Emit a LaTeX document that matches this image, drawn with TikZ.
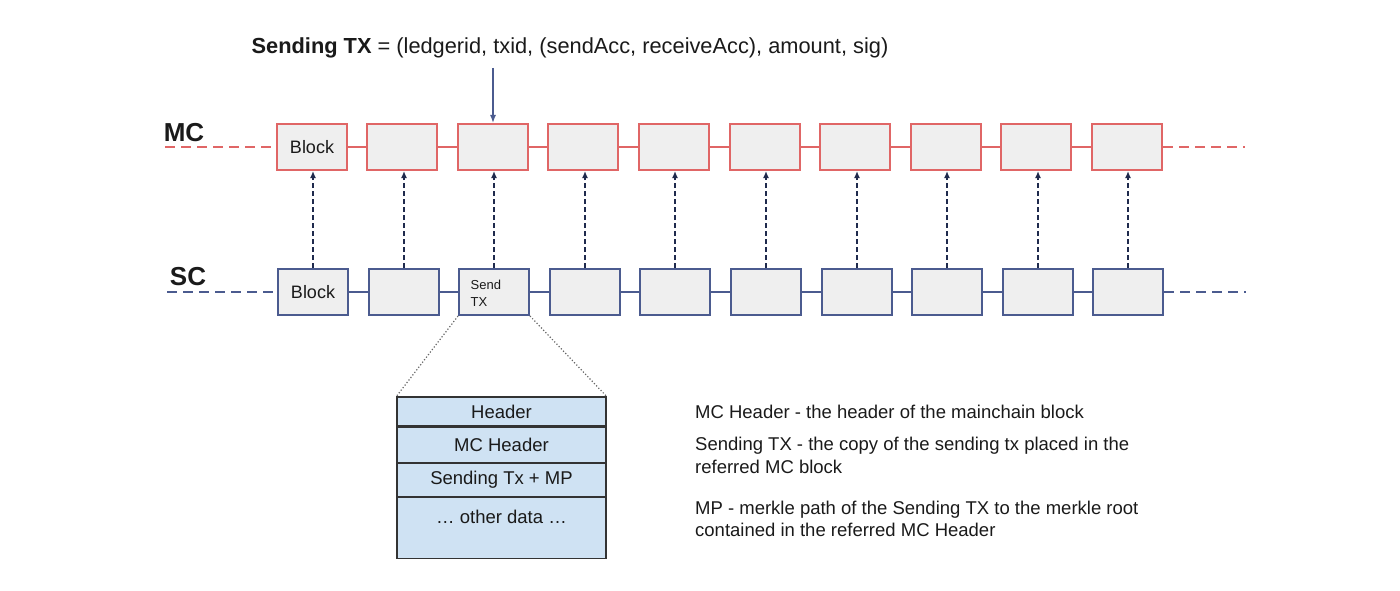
\documentclass[tikz,border=0pt]{standalone}
\usepackage{fontspec}
\setmainfont{Liberation Sans}
\usetikzlibrary{arrows.meta}
\definecolor{mcred}{HTML}{E06666}
\definecolor{scblue}{HTML}{4B5B8F}
\definecolor{boxfill}{HTML}{EFEFEF}
\definecolor{navy}{HTML}{1F2A4D}
\definecolor{detailfill}{HTML}{CFE2F3}
\definecolor{txt}{HTML}{1A1A1A}
\tikzset{
  mcbox/.style={draw=mcred, line width=2pt, fill=boxfill, minimum width=70pt, minimum height=46pt, inner sep=0pt, font=\fontsize{18}{20}\selectfont, text=txt},
  scbox/.style={draw=scblue, line width=2pt, fill=boxfill, minimum width=70pt, minimum height=46pt, inner sep=0pt, font=\fontsize{18}{20}\selectfont, text=txt},
  mclink/.style={draw=mcred, line width=2pt},
  sclink/.style={draw=scblue, line width=1.5pt},
  mcdash/.style={draw=mcred, line width=2pt, dash pattern=on 10pt off 6pt},
  scdash/.style={draw=scblue, line width=2pt, dash pattern=on 10pt off 6pt},
  refarrow/.style={draw=navy, line width=2pt, dash pattern=on 5pt off 3pt, -{Latex[length=7pt,width=6pt]}},
  toparrow/.style={draw=scblue, line width=1.4pt, -{Latex[length=8pt,width=6pt]}},
  detailrow/.style={draw=black!80, line width=1.2pt, fill=detailfill, minimum width=209pt, inner sep=0pt, font=\fontsize{18.5}{20}\selectfont, text=txt},
  zoomline/.style={draw=black!60, line width=1.2pt, dotted},
  chainlabel/.style={font=\bfseries\fontsize{26}{28}\selectfont, text=txt},
  notetext/.style={anchor=base west, inner sep=0pt, font=\fontsize{18.5}{20}\selectfont, text=txt},
}
\begin{document}
\begin{tikzpicture}[x=1pt,y=-1pt]
\useasboundingbox (0,0) rectangle (1400,591);
% top text
\node[anchor=base, inner sep=0pt, font=\fontsize{21.8}{24}\selectfont, text=txt] (toptext) at (570,54) {\textbf{Sending TX} = (ledgerid, txid, (sendAcc, receiveAcc), amount, sig)};
% MC chain
\foreach \i in {0,...,9} {
  \pgfmathtruncatemacro{\cx}{round(311.5+90.6*\i)}
  \node[mcbox] (m\i) at (\cx,147) {};
}
\node[mcbox] at (m0) {Block};
% SC chain
\foreach \i in {0,...,9} {
  \pgfmathtruncatemacro{\cx}{round(313+90.6*\i)}
  \node[scbox] (s\i) at (\cx,292) {};
}
\node[scbox] at (s0) {Block};
\node[anchor=north west, inner sep=0pt, align=left, font=\fontsize{13}{17}\selectfont, text=txt] (sendtx) at (470.5,280) {Send\\TX};
% labels
\node[chainlabel] (mclabel) at (184,133) {MC};
\node[chainlabel] (sclabel) at (188,277) {SC};
% chain lines
\coordinate (mcl) at (165,147);
\coordinate (mcr) at (1245,147);
\coordinate (scl) at (167,292);
\coordinate (scr) at (1246,292);
\draw[mcdash] (mcl) -- (m0.west);
\draw[mcdash] (m9.east) -- (mcr);
\draw[scdash] (scl) -- (s0.west);
\draw[scdash] (s9.east) -- (scr);
\foreach \i [evaluate=\i as \j using int(\i+1)] in {0,...,8} {
  \draw[mclink] (m\i.east) -- (m\j.west);
  \draw[sclink] (s\i.east) -- (s\j.west);
}
% reference arrows
\foreach \i in {0,...,9} {
  \draw[refarrow] (s\i.north) -- (s\i.north |- m\i.south);
}
% top arrow
\coordinate (topstart) at (m2.north |- 0,68);
\draw[toparrow] (topstart) -- (m2.north);
% detail box
\node[detailrow, minimum height=29pt] (d1) at (501.5,411.5) {Header};
\node[detailrow, minimum height=35pt, anchor=north] (d2) at (d1.south) {MC Header};
\node[detailrow, minimum height=33pt, anchor=north] (d3) at (d2.south) {Sending Tx + MP};
\node[detailrow, minimum height=61pt, anchor=north, text depth=22pt] (d4) at (d3.south) {\dots{} other data \dots};
\draw[zoomline] (s2.south west) -- (d1.north west);
\draw[zoomline] (s2.south east) -- (d1.north east);
% notes
\node[notetext] (n1) at (695,418) {MC Header - the header of the mainchain block};
\node[notetext] (n2) at (695,450) {Sending TX - the copy of the sending tx placed in the};
\node[notetext] (n3) at (695,473) {referred MC block};
\node[notetext] (n4) at (695,514) {MP - merkle path of the Sending TX to the merkle root};
\node[notetext] (n5) at (695,536) {contained in the referred MC Header};
\end{tikzpicture}
\end{document}
